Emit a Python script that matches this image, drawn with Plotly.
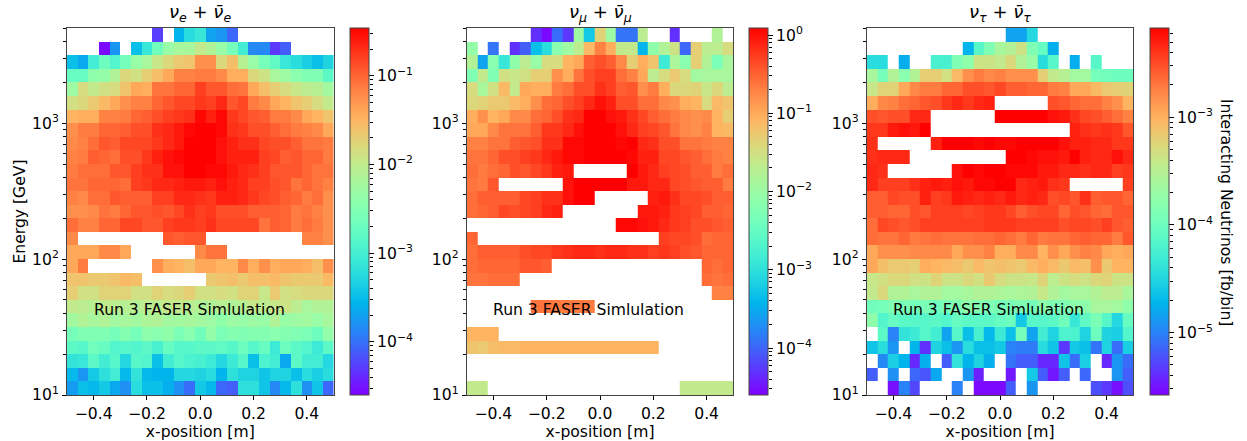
import math
import numpy as np
import plotly.graph_objects as go

_ = None
# Cell readings: percent position on each panel's logarithmic colour bar, top row first.
nu_e_levels = [
[_,_,_,_,_,_,_,_,8,_,25,33,36,22,20,13,_,_,_,_,_,_,_,_,_],
[_,_,_,1,20,_,27,36,47,55,58,58,63,60,55,48,38,18,18,7,12,_,_,_,_],
[27,23,38,46,41,48,55,58,64,68,71,72,78,78,68,73,61,55,48,44,36,33,30,27,31],
[45,45,53,54,60,68,66,70,73,77,80,80,81,81,79,76,76,68,65,58,56,52,50,50,43],
[56,67,63,66,67,72,77,76,82,82,84,84,89,86,86,83,82,77,73,70,67,64,62,61,57],
[66,68,71,74,77,78,80,80,84,86,88,88,90,89,92,86,88,81,79,77,75,72,70,67,63],
[75,76,76,80,80,81,84,85,87,89,90,91,96,93,96,90,88,86,85,81,81,79,77,75,72],
[78,81,81,84,84,85,87,87,91,92,94,96,97,98,96,91,90,87,87,85,83,81,80,79,77],
[79,80,83,86,85,88,88,88,90,92,94,98,100,99,95,93,91,91,88,87,87,85,82,82,81],
[80,81,85,84,83,87,87,90,93,95,96,98,98,98,95,93,93,93,89,88,85,86,84,84,81],
[81,83,83,83,86,86,89,91,91,95,95,97,97,96,96,94,92,91,89,86,86,86,84,82,82],
[82,82,84,84,84,83,89,90,92,92,93,94,94,93,95,93,92,89,89,87,86,82,84,82,80],
[80,79,83,83,86,85,85,85,89,89,92,92,91,90,93,93,92,90,88,87,85,84,81,83,78],
[78,78,79,82,81,84,86,86,87,86,88,91,89,90,87,87,87,85,85,85,84,81,82,80,78],
[83,80,80,84,84,88,88,86,86,89,90,90,89,91,88,88,88,88,82,85,84,81,83,81,78],
[79,_,_,_,_,_,_,_,_,86,85,86,86,_,_,_,_,_,_,_,_,_,80,80,78],
[77,77,77,79,79,77,_,_,_,_,_,_,79,82,82,_,_,_,_,_,_,_,_,_,_],
[77,81,_,_,_,_,_,_,78,76,75,73,77,77,75,75,79,76,78,76,77,77,76,73,78],
[72,72,71,71,72,74,73,_,_,_,_,_,_,71,72,73,71,73,73,74,72,71,71,71,74],
[70,66,66,69,69,69,66,66,69,67,68,70,66,66,67,66,69,69,64,71,66,67,68,68,68],
[63,62,61,63,62,61,61,62,62,63,63,62,60,60,61,60,61,64,62,64,65,62,58,60,60],
[57,60,58,60,57,58,57,59,60,57,57,58,57,56,53,56,55,56,55,60,55,56,57,55,58],
[48,50,50,50,48,51,48,53,52,53,49,52,47,54,49,51,50,51,51,52,51,50,49,46,54],
[43,42,47,45,41,42,41,43,39,45,42,42,43,43,44,42,46,42,45,37,46,43,41,37,43],
[35,36,43,38,42,32,42,41,27,38,42,40,39,37,32,37,42,27,40,38,23,43,38,38,32],
[26,20,29,34,38,26,35,26,25,25,32,32,31,33,25,34,31,31,28,31,31,27,33,30,33],
[21,27,26,29,23,19,33,27,27,24,19,14,29,26,13,12,34,34,28,18,26,34,19,28,13],
]
nu_mu_levels = [
[_,_,_,_,_,_,6,1,14,7,56,29,69,56,15,15,62,_,_,6,_,_,_,60,_],
[54,_,15,_,6,12,27,33,52,56,62,74,80,76,63,63,25,53,60,65,13,70,62,62,67],
[60,22,52,36,53,62,55,67,67,75,77,85,87,85,79,70,76,72,37,59,52,70,60,49,58],
[50,63,50,66,64,66,70,70,78,76,82,87,89,89,83,80,77,62,67,71,67,57,58,58,58],
[67,58,66,74,63,77,76,76,81,83,87,87,91,89,85,86,78,81,76,68,68,69,64,68,62],
[68,69,71,71,74,76,78,83,84,87,89,92,95,93,87,87,83,83,79,78,76,75,67,74,72],
[76,78,75,77,79,79,83,84,87,91,92,97,97,95,94,91,88,85,83,81,79,78,79,75,70],
[77,77,79,82,82,82,85,90,90,92,95,97,98,97,95,92,89,88,86,82,79,78,80,75,74],
[80,80,82,82,85,86,87,91,91,96,96,97,100,97,96,97,92,91,87,87,82,82,81,80,80],
[82,82,84,87,87,89,90,92,94,96,96,97,99,98,97,96,93,93,88,88,86,85,83,81,80],
[83,81,83,84,87,86,88,90,93,94,_,_,_,_,_,97,94,92,89,88,87,85,85,81,83],
[82,81,86,_,_,_,_,_,_,95,97,97,100,98,97,94,94,92,92,88,87,86,85,85,81],
[83,85,85,85,85,88,89,91,91,95,97,97,_,_,_,_,_,93,94,91,88,88,87,85,85],
[83,84,85,88,87,88,89,92,93,_,_,_,_,_,_,_,94,94,93,90,89,88,85,85,84],
[_,_,_,_,_,_,_,_,_,_,_,_,_,_,96,96,95,94,92,90,89,87,87,86,85],
[84,_,_,_,_,_,_,_,_,_,_,_,_,_,_,_,_,_,89,88,88,87,83,84,84],
[83,85,85,85,85,87,88,88,90,91,92,92,91,92,92,91,91,89,90,89,87,86,84,84,84],
[83,84,84,84,84,86,86,85,_,_,_,_,_,_,_,_,_,_,_,_,_,_,84,83,84],
[82,82,83,83,83,_,_,_,_,_,_,_,_,_,_,_,_,_,_,_,_,_,83,82,83],
[_,_,_,_,_,_,_,_,_,_,_,_,_,_,_,_,_,_,_,_,_,_,_,80,80],
[_,_,_,_,_,_,82,82,81,81,81,81,_,_,_,_,_,_,_,_,_,_,_,_,_],
[_,_,_,_,_,_,_,_,_,_,_,_,_,_,_,_,_,_,_,_,_,_,_,_,_],
[75,75,75,_,_,_,_,_,_,_,_,_,_,_,_,_,_,_,_,_,_,_,_,_,_],
[72,71,73,74,74,75,75,75,75,75,75,75,75,75,75,75,75,75,_,_,_,_,_,_,_],
[_,_,_,_,_,_,_,_,_,_,_,_,_,_,_,_,_,_,_,_,_,_,_,_,_],
[_,_,_,_,_,_,_,_,_,_,_,_,_,_,_,_,_,_,_,_,_,_,_,_,_],
[63,63,_,_,_,_,_,_,_,_,_,_,_,_,_,_,_,_,_,_,63,63,63,63,63],
]
nu_tau_levels = [
[_,_,_,_,_,_,_,_,_,_,_,_,_,22,22,32,_,_,_,_,_,_,_,_,_],
[_,_,_,_,_,_,_,_,_,25,42,50,58,60,65,50,45,24,_,_,_,_,_,_,_],
[33,33,_,24,_,_,39,39,50,53,65,65,63,68,60,55,33,42,_,24,_,42,_,_,_],
[58,48,60,52,60,70,70,66,74,78,81,79,80,78,78,78,70,63,61,57,57,48,47,46,46],
[64,69,69,77,79,81,81,84,84,87,87,86,88,85,85,84,84,81,80,77,77,74,71,70,69],
[76,79,80,83,84,86,87,90,92,90,92,93,_,_,_,_,_,87,86,84,83,83,80,78,75],
[87,86,87,87,92,92,_,_,_,_,_,_,97,99,99,99,97,95,94,91,88,87,85,83,80],
[90,90,94,95,94,97,_,_,_,_,_,_,_,_,_,_,_,_,_,93,91,90,91,90,86],
[91,_,_,_,_,_,93,98,98,99,96,100,96,96,99,100,98,98,95,93,93,92,92,90,90],
[91,92,92,92,_,_,_,_,_,_,_,_,_,98,99,96,95,95,94,97,93,92,92,95,92],
[92,91,_,_,_,_,_,_,95,97,96,98,98,96,96,96,94,94,92,92,91,92,92,89,90],
[92,89,89,89,91,93,94,93,95,94,96,96,97,98,92,93,94,91,90,_,_,_,_,_,89],
[85,85,88,87,87,93,89,90,94,93,92,93,92,94,92,93,92,87,88,86,91,85,86,86,84],
[85,85,84,84,87,86,89,89,89,88,89,90,90,88,85,87,88,88,84,87,86,84,83,86,86],
[83,88,87,86,87,89,89,89,89,89,89,90,90,90,89,89,89,89,87,88,88,87,89,86,85],
[83,82,82,84,81,82,83,82,82,82,83,83,84,83,81,84,81,82,82,84,85,84,84,81,86],
[77,78,78,78,79,79,79,79,77,78,78,80,76,76,79,79,75,78,77,78,80,79,77,76,77],
[77,73,71,71,70,76,75,74,73,71,74,72,73,72,71,74,76,74,71,74,73,78,71,75,75],
[64,66,68,68,66,65,69,65,65,68,66,71,67,65,65,64,69,62,65,67,65,68,69,65,65],
[63,68,60,60,58,60,60,57,57,58,60,60,59,58,59,60,64,60,57,58,58,60,62,62,58],
[47,48,50,49,48,49,47,49,50,53,51,50,48,49,50,48,53,50,50,53,53,58,58,57,53],
[53,41,45,43,42,42,43,41,45,43,43,43,45,46,29,42,42,43,47,36,44,49,42,32,45],
[_,43,17,35,37,42,38,22,42,27,39,26,37,27,48,22,38,31,40,40,31,46,31,30,41],
[28,33,20,_,25,6,31,27,20,33,27,27,29,17,16,16,33,28,7,29,27,15,31,14,30],
[_,18,30,25,5,24,_,12,35,25,31,24,_,15,12,12,5,5,28,14,30,_,5,20,14],
[12,_,19,_,13,11,23,_,_,20,4,_,_,3,_,29,12,3,12,_,13,_,_,20,12],
[_,_,2,17,9,_,_,_,17,_,1,1,1,12,_,20,_,_,_,_,_,10,7,2,10],
]
panel_titles = ["<i>ν<sub>e</sub></i> + <i>ν̄<sub>e</sub></i>",
                "<i>ν<sub>μ</sub></i> + <i>ν̄<sub>μ</sub></i>",
                "<i>ν<sub>τ</sub></i> + <i>ν̄<sub>τ</sub></i>"]
log_color_limits = [(-4.6, -0.46), (-4.6, 0.09), (-5.58, -2.17)]
x_ticks = [-0.4, -0.2, 0.0, 0.2, 0.4]
energy_ticks = [10, 100, 1000]
note_text = "Run 3 FASER Simlulation"
bar_label = "Interacting Neutrinos [fb/bin]"
x_edges = [-0.5 + 0.04 * i for i in range(26)]
energy_edges = [10 ** (1 + 0.1 * i) for i in range(28)]

W, H = 1247, 441
TOP, BOTTOM = 28, 395
plot_px = [(67, 333.5), (466.7, 733.3), (866.7, 1133.3)]
bar_px = [(350, 368.5), (749.3, 768), (1150, 1168.7)]
FONT = "DejaVu Sans"
TEXT = 15.6


def rainbow(t):
    r = min(1, abs(2 * t - 0.5))
    g = math.sin(math.pi * t)
    b = math.cos(math.pi * t / 2)
    return f"rgb({round(r*255)},{round(g*255)},{round(b*255)})"


def reading(v):
    # Warm shades were read about three points low against the colour bar.
    return min(100, v + 3) if v >= 78 else v


scale = [[i / 64, rainbow(i / 64)] for i in range(65)]
fig = go.Figure()
layout = dict(
    width=W, height=H, margin=dict(l=0, r=0, t=0, b=0, autoexpand=False),
    paper_bgcolor="white", plot_bgcolor="white", showlegend=False,
    font=dict(family=FONT, size=TEXT, color="black"), annotations=[],
)
y_dom = [1 - BOTTOM / H, 1 - TOP / H]
axis_line = dict(showline=True, linecolor="#444", linewidth=1, mirror=True, ticks="outside",
                 ticklen=4, tickwidth=1, tickcolor="black", showgrid=False, zeroline=False)

for k, levels in enumerate([nu_e_levels, nu_mu_levels, nu_tau_levels]):
    assert len(levels) == 27 and all(len(r) == 25 for r in levels)
    lo, hi = log_color_limits[k]
    z = [[(float("nan") if v is None else lo + reading(v) / 100 * (hi - lo)) for v in row] for row in levels[::-1]]
    n = k + 1
    sfx = "" if n == 1 else str(n)
    decades = [d for d in range(math.ceil(lo), math.floor(hi) + 1)]
    labels = [f"10<sup>{'−' + str(-d) if d < 0 else d}</sup>" for d in decades]
    cbar = dict(
        x=bar_px[k][0] / W, xanchor="left", xpad=0, ypad=0, y=1 - TOP / H, yanchor="top",
        len=(BOTTOM - TOP) / H, lenmode="fraction", thickness=bar_px[k][1] - bar_px[k][0],
        thicknessmode="pixels", outlinewidth=1, outlinecolor="#444",
        tickvals=decades, ticktext=labels, ticks="outside", ticklen=5, tickwidth=1,
        tickcolor="black", tickfont=dict(family=FONT, size=TEXT),
    )
    fig.add_trace(go.Heatmap(x=x_edges, y=energy_edges, z=z, zmin=lo, zmax=hi, colorscale=scale,
                             colorbar=cbar, hoverongaps=False, xaxis=f"x{sfx}", yaxis=f"y{sfx}"))
    minor_y = [m * 10 ** d for d in range(1, 4) for m in range(2, 10) if m * 10 ** d <= 5012]
    layout[f"xaxis{sfx}"] = dict(
        domain=[plot_px[k][0] / W, plot_px[k][1] / W], range=[-0.5, 0.5], anchor=f"y{sfx}",
        tickmode="array", tickvals=x_ticks, ticktext=[f"{v:.1f}".replace("-", "−") for v in x_ticks],
        tickfont=dict(family=FONT, size=TEXT),
        title=dict(text="x-position [m]", font=dict(family=FONT, size=TEXT), standoff=3), **axis_line)
    layout[f"yaxis{sfx}"] = dict(
        domain=y_dom, type="log", range=[1, 3.7], anchor=f"x{sfx}",
        tickmode="array", tickvals=energy_ticks,
        ticktext=[f"10<sup>{i}</sup>" for i in (1, 2, 3)],
        tickfont=dict(family=FONT, size=TEXT),
        minor=dict(tickmode="array", tickvals=minor_y, ticks="outside", ticklen=3, tickwidth=1,
                   tickcolor="black", showgrid=False), **axis_line)
    if k == 0:
        layout["yaxis"]["title"] = dict(text="Energy [GeV]", font=dict(family=FONT, size=TEXT), standoff=2)
    layout["annotations"].append(dict(
        text=panel_titles[k], xref="paper", yref="paper", x=sum(plot_px[k]) / 2 / W, y=1 - 27 / H,
        xanchor="center", yanchor="bottom", showarrow=False, font=dict(family=FONT, size=18)))
    layout["annotations"].append(dict(
        text=note_text, xref=f"x{sfx}", yref=f"y{sfx}", x=-0.4, y=1.625, xanchor="left",
        yanchor="middle", xshift=-2, showarrow=False, font=dict(family=FONT, size=TEXT)))
    # Minor ticks beside the colour bar, on a scale that shares the bar's limits.
    bx, by = f"x{n + 3}", f"y{n + 3}"
    minors = [m * 10.0 ** d for d in range(math.floor(lo), math.ceil(hi) + 1) for m in range(2, 10)
              if lo <= math.log10(m) + d <= hi]
    fig.add_trace(go.Scatter(x=[0.5], y=[10 ** ((lo + hi) / 2)], mode="markers", marker=dict(opacity=0),
                             hoverinfo="skip", xaxis=bx, yaxis=by))
    layout[f"xaxis{n + 3}"] = dict(domain=[bar_px[k][0] / W, bar_px[k][1] / W], range=[0, 1],
                                   visible=False, anchor=by)
    layout[f"yaxis{n + 3}"] = dict(domain=y_dom, type="log", range=[lo, hi], anchor=bx, side="right",
                                   showgrid=False, zeroline=False, showline=False, showticklabels=False,
                                   tickmode="array", tickvals=[], ticks="",
                                   minor=dict(tickmode="array", tickvals=minors, ticks="outside", ticklen=3,
                                              tickwidth=1, tickcolor="black", showgrid=False))

layout["annotations"].append(dict(
    text=bar_label, xref="paper", yref="paper", x=1226 / W, y=1 - 212 / H, xanchor="center",
    yanchor="middle", textangle=90, showarrow=False, font=dict(family=FONT, size=TEXT)))

fig.update_layout(**layout)
fig.write_html("out.html", config={"displayModeBar": False},
               post_script="document.body.style.margin='0';")
